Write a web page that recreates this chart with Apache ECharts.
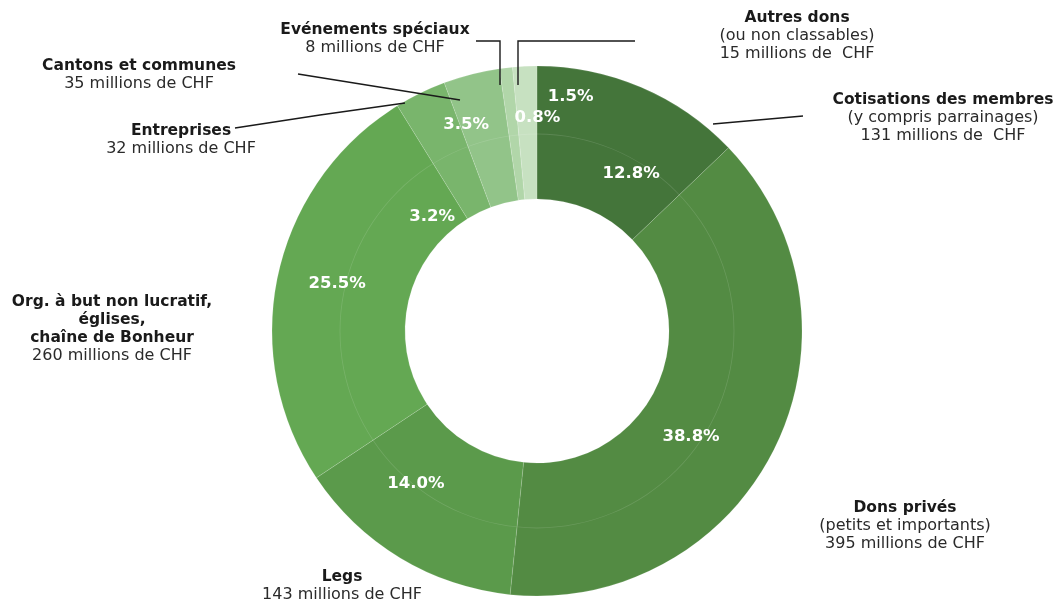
<!DOCTYPE html>
<html>
<head>
<meta charset="utf-8">
<script src="https://cdn.jsdelivr.net/npm/echarts@6/dist/echarts.min.js"></script>
<style>html,body{margin:0;padding:0;background:#fff;}#c{width:1064px;height:604px;}</style>
</head>
<body>
<div id="c"></div>
<script>
// ---- data ----
const categories = ['Cotisations des membres', 'Dons privés', 'Legs', 'Org. à but non lucratif,\néglises,\nchaîne de Bonheur', 'Entreprises', 'Cantons et communes', 'Evénements spéciaux', 'Autres dons'];
const subtitles = ['(y compris parrainages)', '(petits et importants)', '', '', '', '', '', '(ou non classables)'];
const values = [131, 395, 143, 260, 32, 35, 8, 15];
const percents = ['12.8%', '38.8%', '14.0%', '25.5%', '3.2%', '3.5%', '0.8%', '1.5%'];
const amountSuffix = [' millions de  CHF', ' millions de CHF', ' millions de CHF', ' millions de CHF', ' millions de CHF', ' millions de CHF', ' millions de CHF', ' millions de  CHF'];

// ---- styles / layout ----
const colors = ['#44753a', '#538b43', '#5b9a4b', '#64a853', '#79b56c', '#92c489', '#b1d6a9', '#c7e1c1'];
const center = [537, 331];
const radius = [132, 265];
// offsets of the percentage labels from their default inside position
const pctOffsets = [[15, 28], [-27, 17], [-17, -20], [-3, -4], [-16, 67], [-21, -11], [24, -13], [43, -33]];
// name label anchors (center x, top of first line)
const nameAnchors = [[943, 91], [905, 499], [342, 568], [112, 293], [181, 122], [139, 57], [375, 21], [797, 9]];
const leaderLines = [
  [[713, 124], [758, 120], [803, 116]],
  null, null, null,
  [[235, 128], [320, 115], [405, 103]],
  [[298, 74], [379, 87], [460, 100]],
  [[476, 41], [500, 41], [500, 85]],
  [[635, 41], [518, 41], [518, 85]]
];

const chart = echarts.init(document.getElementById('c'), null, {renderer: 'canvas'});
const baseData = values.map((v, i) => ({name: categories[i], value: v}));

const option = {
  animation: false,
  backgroundColor: '#ffffff',
  series: [
    {
      type: 'pie', center: center, radius: radius, startAngle: 90, clockwise: true,
      silent: true, z: 1,
      label: {show: false}, labelLine: {show: false},
      itemStyle: {borderColor: 'rgba(255,255,255,0.18)', borderWidth: 0.8},
      data: baseData.map((d, i) => ({...d, itemStyle: {color: colors[i]}}))
    },
    {
      type: 'pie', center: center, radius: [196.6, 197.4], silent: true, z: 2,
      label: {show: false}, labelLine: {show: false},
      itemStyle: {color: 'rgba(255,255,255,0.13)'},
      data: [{value: 1}]
    },
    {
      type: 'pie', center: center, radius: radius, startAngle: 90, clockwise: true,
      silent: true, z: 3, avoidLabelOverlap: false,
      itemStyle: {color: 'rgba(0,0,0,0)'},
      label: {
        show: true, position: 'inside', color: '#ffffff',
        fontFamily: 'DejaVu Sans', fontWeight: 'bold', fontSize: 16.5,
        formatter: p => percents[p.dataIndex]
      },
      labelLine: {show: false},
      labelLayout: p => ({dx: pctOffsets[p.dataIndex][0], dy: pctOffsets[p.dataIndex][1]}),
      data: baseData
    },
    {
      type: 'pie', center: center, radius: radius, startAngle: 90, clockwise: true,
      silent: true, z: 4, avoidLabelOverlap: false,
      itemStyle: {color: 'rgba(0,0,0,0)'},
      label: {
        show: true, position: 'outside', align: 'center',
        fontFamily: 'DejaVu Sans', color: '#222',
        formatter: p => {
          const i = p.dataIndex;
          let s = categories[i].split('\n').map(t => '{b|' + t + '}').join('\n');
          if (subtitles[i]) s += '\n{n|' + subtitles[i] + '}';
          s += '\n{n|' + values[i] + amountSuffix[i] + '}';
          return s;
        },
        rich: {
          b: {fontFamily: 'DejaVu Sans', fontWeight: 'bold', fontSize: 15.5, color: '#1a1a1a', lineHeight: 18, align: 'center'},
          n: {fontFamily: 'DejaVu Sans', fontSize: 16, color: '#2a2a2a', lineHeight: 18, align: 'center'}
        }
      },
      labelLine: {show: true, lineStyle: {color: '#1a1a1a', width: 1.4}},
      labelLayout: p => {
        const i = p.dataIndex;
        const o = {x: nameAnchors[i][0], y: nameAnchors[i][1], align: 'center', verticalAlign: 'top'};
        if (leaderLines[i]) o.labelLinePoints = leaderLines[i];
        return o;
      },
      data: baseData.map((d, i) => leaderLines[i] ? d : {...d, labelLine: {show: false}})
    }
  ]
};
chart.setOption(option);
</script>
</body>
</html>
